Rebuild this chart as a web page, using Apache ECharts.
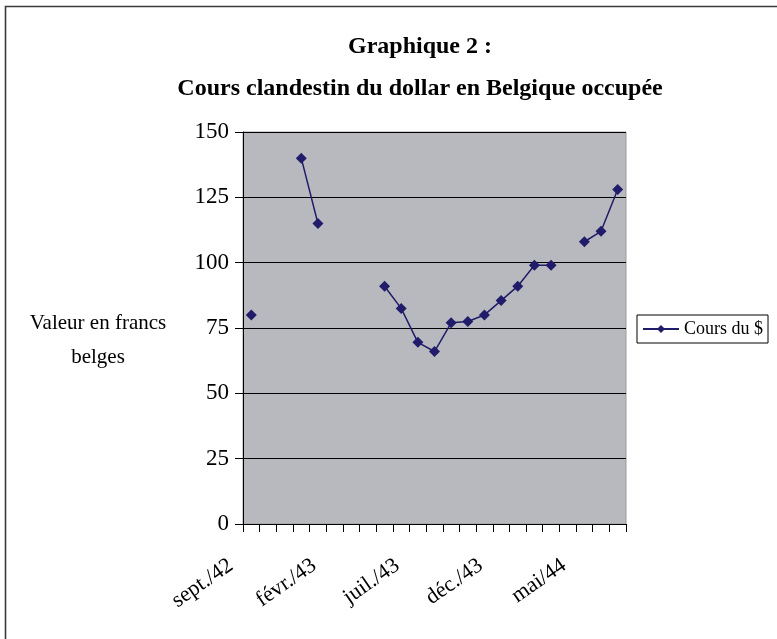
<!DOCTYPE html>
<html><head><meta charset="utf-8">
<script src="https://cdn.jsdelivr.net/npm/echarts@6/dist/echarts.min.js"></script>
<style>html,body{margin:0;padding:0;background:#fff}#c{width:777px;height:639px}</style>
</head><body><div id="c"></div>
<script>
const categories = ['sept./42','oct./42','nov./42','déc./42','janv./43','févr./43','mars/43','avr./43','mai/43','juin/43','juil./43','août/43','sept./43','oct./43','nov./43','déc./43','janv./44','févr./44','mars/44','avr./44','mai/44','juin/44','juil./44'];
const coursDollar = [80, null, null, 140, 115, null, null, null, 91, 82.5, 69.5, 66, 77, 77.5, 80, 85.5, 91, 99, 99, null, 108, 112, 128];
const yTicks = [0, 25, 50, 75, 100, 125, 150];
const titleLines = ['Graphique 2 :', 'Cours clandestin du dollar en Belgique occupée'];
const yAxisName = ['Valeur en francs', 'belges'];
const seriesName = 'Cours du $';

const FONT = '"Liberation Serif", "DejaVu Serif", serif';
const chart = echarts.init(document.getElementById('c'), null, {renderer: 'canvas'});
chart.setOption({
  backgroundColor: '#fff',
  animation: false,
  title: {
    text: titleLines.join('\n'),
    left: 415, top: 21, textAlign: 'center',
    textStyle: {fontFamily: FONT, fontWeight: 'bold', fontSize: 24, lineHeight: 42, color: '#000'}
  },
  grid: {left: 243, top: 132, width: 383, height: 392, show: true, backgroundColor: '#b8b9be', borderColor: '#9b9b9f', borderWidth: 1},
  legend: {
    left: 637, top: 315, orient: 'vertical',
    data: [seriesName],
    borderColor: '#000', borderWidth: 1, borderRadius: 0,
    padding: [5, 5, 5, 5],
    itemWidth: 36, itemHeight: 10, itemGap: 4,
    textStyle: {fontFamily: FONT, fontSize: 18, color: '#000'}
  },
  xAxis: {
    type: 'category', data: categories, boundaryGap: true,
    axisLine: {lineStyle: {color: '#000', width: 1}},
    axisTick: {show: true, interval: 0, length: 8, lineStyle: {color: '#000'}},
    axisLabel: {interval: 4, rotate: 35, margin: 25, fontFamily: FONT, fontSize: 22, color: '#000',
      formatter: function (v, i) { return i % 5 === 0 ? v : ''; }, padding: [0, 25, 0, 0]},
    splitLine: {show: false}
  },
  yAxis: {
    type: 'value', min: yTicks[0], max: yTicks[yTicks.length - 1], interval: yTicks[1] - yTicks[0],
    axisLine: {show: true, lineStyle: {color: '#000', width: 1}},
    axisTick: {show: true, length: 8, lineStyle: {color: '#000'}},
    axisLabel: {fontFamily: FONT, fontSize: 23, color: '#000', margin: 14},
    splitLine: {show: true, lineStyle: {color: '#000', width: 1}}
  },
  graphic: [
    {type: 'rect', shape: {x: 5.5, y: 6.5, width: 800, height: 700}, style: {fill: 'none', stroke: '#3a3a3a', lineWidth: 1.6}, silent: true},
    {type: 'text', style: {x: 98, y: 323, text: yAxisName[0], fontFamily: FONT, fontSize: 21, align: 'center', verticalAlign: 'middle', fill: '#000'}, silent: true},
    {type: 'text', style: {x: 98, y: 357, text: yAxisName[1], fontFamily: FONT, fontSize: 21, align: 'center', verticalAlign: 'middle', fill: '#000'}, silent: true}
  ],
  series: [{
    name: seriesName, type: 'line', data: coursDollar, connectNulls: false,
    symbol: 'diamond', symbolSize: 11, showAllSymbol: true,
    lineStyle: {color: '#211c6a', width: 1.5},
    itemStyle: {color: '#211c6a'}
  }]
});
</script></body></html>
